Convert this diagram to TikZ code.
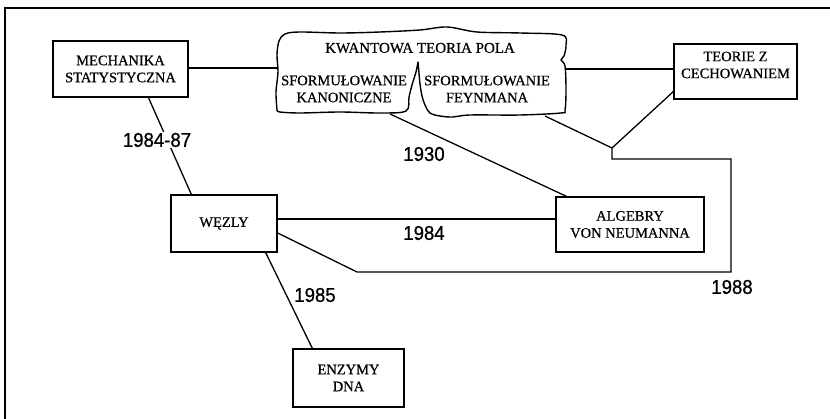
\documentclass[tikz,border=0pt]{standalone}
\usepackage{fontspec}
\setmainfont[FakeBold=0.6]{Liberation Serif}
\newfontfamily\yearfont[FakeStretch=0.93,FakeBold=0.8]{Liberation Sans}
\usetikzlibrary{calc}
\begin{document}
\begin{tikzpicture}[x=1pt,y=-1pt,
  line width=1.3pt,
  box/.style={draw, line width=1.4pt, inner sep=0pt, align=center,
    font=\fontsize{14.5}{17}\selectfont},
  boxtext/.style={inner sep=0pt, align=center, font=\fontsize{14.5}{17}\selectfont},
  year/.style={inner sep=1pt, font=\yearfont\fontsize{20}{20}\selectfont},
  cloud/.style={draw, line width=1.4pt, line join=round}]
\useasboundingbox (0,0) rectangle (830,419);

% frame
\draw[line width=1.8pt] (5,419) -- (5,8) -- (830,8);

% boxes
\node[box, minimum width=135, minimum height=56] (mech) at (120.5,69) {MECHANIKA\\STATYSTYCZNA};
\node[box, minimum width=123, minimum height=55] (teorie) at (735.5,71.5) {};
\node[boxtext] (teorieT) at (735.5,65) {TEORIE Z\\CECHOWANIEM};
\node[box, minimum width=106, minimum height=57] (wezly) at (224,223.5) {WĘZLY};
\node[box, minimum width=148, minimum height=55] (algebry) at (630,224.5) {ALGEBRY\\VON NEUMANNA};
\node[box, minimum width=111, minimum height=58] (enzymy) at (348.5,378) {ENZYMY\\DNA};

% quantum field theory: torn sheet with two halves
\draw[cloud]
  plot[smooth, tension=0.55] coordinates {(277,110) (276,92) (278,72) (277,55) (279,41) (285,34) (300,32)
     (340,33) (380,32) (420,30) (447,27) (477,32) (520,33) (562,35)
     (566,45) (564,56) (561,60) (565,66) (566,90) (565,110) (561,113)
     (520,115) (470,115) (453,117) (440,116) (430,113)
     (425,105) (422,96) (420,84) (419,73) (418,62)}
  -- plot[smooth, tension=0.55] coordinates {(418,62) (416,72) (412,85) (409,97) (406,111)
     (380,113) (340,112) (300,113) (280,112) (277,110)}
  -- cycle;
\node[boxtext, font=\fontsize{15}{17}\selectfont] (qft) at (420,48) {KWANTOWA TEORIA POLA};
\node[boxtext] (kan) at (344,89) {SFORMUŁOWANIE\\KANONICZNE};
\node[boxtext] (feyn) at (487,89) {SFORMUŁOWANIE\\FEYNMANA};

% attachment points on the sheet and the bend points
\coordinate (qftW) at (277,68);
\coordinate (qftE) at (565,69);
\coordinate (qftS1) at (390,114);
\coordinate (qftS2) at (545,116);
\coordinate (join) at (612,148);
\coordinate (bendA) at (612,159);
\coordinate (bendB) at (731,159);
\coordinate (bendC) at (731,272);
\coordinate (bendD) at (357,272);

% connectors
\draw (mech.east |- qftW) -- (qftW);
\draw (qftE) -- (qftE -| teorie.west);
\draw ($(teorie.south west)+(1,-9)$) -- (join);
\draw (qftS2) -- (join) -- (bendA) -- (bendB) -- (bendC) -- (bendD)
      -- ($(wezly.east)+(0,9.5)$);
\draw (qftS1) -- ($(algebry.north west)+(11,0)$);
\draw ($(wezly.east)+(0,-4.5)$) -- ($(algebry.west)+(0,-5.5)$);
\draw ($(mech.south)+(28,0)$) -- ($(wezly.north west)+(21,0)$);
\draw ($(wezly.south east)+(-12,0)$) -- ($(enzymy.north west)+(20,0)$);

% year labels
\node[year, fill=white] (y8487) at (157,140) {1984-87};
\node[year] (y1930) at (424,154) {1930};
\node[year] (y1984) at (424,233) {1984};
\node[year] (y1985) at (315,295) {1985};
\node[year] (y1988) at (732,287) {1988};
\end{tikzpicture}
\end{document}
